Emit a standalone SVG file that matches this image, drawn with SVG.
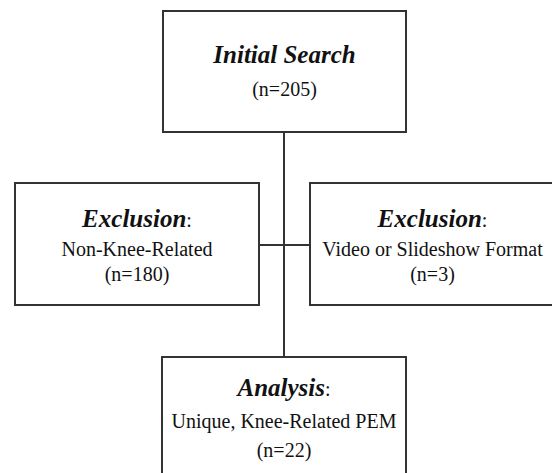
<svg xmlns="http://www.w3.org/2000/svg" width="552" height="473" viewBox="0 0 552 473">
<style>
.box{fill:#fff;stroke:#333;stroke-width:2}
.ln{stroke:#333;stroke-width:2;fill:none}
text{font-family:"Liberation Serif","Times New Roman",serif;fill:#111;text-anchor:middle}
.h{font-weight:bold;font-style:italic;font-size:25px}
.t{font-size:20px}
</style>
<rect width="552" height="473" fill="#fff"/>
<g id="connectors">
<line class="ln" x1="284" y1="132" x2="284" y2="357"/>
<line class="ln" x1="259" y1="245" x2="310" y2="245"/>
</g>
<g id="initial-search">
<rect class="box" x="163" y="11" width="243" height="121"/>
<text x="284.5" y="63" class="h">Initial Search</text>
<text x="284.5" y="96" class="t">(n=205)</text>
</g>
<g id="exclusion-left">
<rect class="box" x="15" y="183" width="244" height="122"/>
<text x="137" y="227"><tspan class="h">Exclusion</tspan><tspan class="t" font-size="25">:</tspan></text>
<text x="137" y="256" class="t">Non-Knee-Related</text>
<text x="137" y="281" class="t">(n=180)</text>
</g>
<g id="exclusion-right">
<rect class="box" x="310" y="183" width="250" height="122"/>
<text x="432.5" y="227"><tspan class="h">Exclusion</tspan><tspan class="t" font-size="25">:</tspan></text>
<text x="432.5" y="256" class="t">Video or Slideshow Format</text>
<text x="432.5" y="281" class="t">(n=3)</text>
</g>
<g id="analysis">
<rect class="box" x="162" y="357" width="244" height="130"/>
<text x="284" y="396"><tspan class="h">Analysis</tspan><tspan class="t" font-size="25">:</tspan></text>
<text x="284" y="428" class="t">Unique, Knee-Related PEM</text>
<text x="284" y="457" class="t">(n=22)</text>
</g>
</svg>
